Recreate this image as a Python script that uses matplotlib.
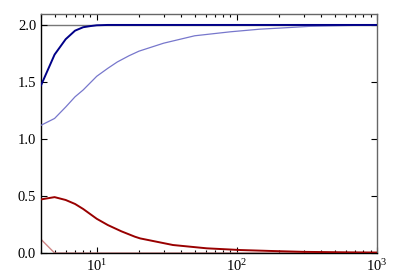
import matplotlib
matplotlib.use("Agg")
import matplotlib.pyplot as plt
import numpy as np

plt.rcParams['font.family'] = ['Liberation Serif', 'DejaVu Serif']
plt.rcParams['mathtext.fontset'] = 'stix'

# dark blue series
x_db = [4, 5, 6, 7, 8, 9, 10, 12, 15, 20, 50, 100, 1000]
y_db = [1.47, 1.74, 1.875, 1.95, 1.98, 1.99, 1.997, 2.0, 2.0, 2.0, 2.0, 2.0, 2.0]

# light blue series
x_lb = [4, 5, 6, 7, 8, 10, 12, 14, 17, 20, 30, 50, 90, 146, 200, 333, 600, 1000]
y_lb = [1.12, 1.18, 1.28, 1.37, 1.43, 1.55, 1.62, 1.675, 1.73, 1.77, 1.84, 1.905, 1.94, 1.963, 1.972, 1.988, 1.995, 2.0]

# dark red series
x_dr = [4, 5, 6, 7, 8, 10, 12, 15, 18.7, 20.4, 35, 61, 106, 173, 300, 600, 1000]
y_dr = [0.47, 0.49, 0.465, 0.43, 0.386, 0.30, 0.245, 0.19, 0.143, 0.128, 0.07, 0.041, 0.026, 0.018, 0.01, 0.006, 0.004]

# light red series
x_lr = [4, 5, 10, 100, 1000]
y_lr = [0.12, 0.0, 0.0, 0.0, 0.0]

fig = plt.figure(figsize=(3.99, 2.78), dpi=100)
ax = fig.add_axes([41/399, 25/278, 336/399, 239/278])

ax.axhline(2.0, color='#777777', lw=1.0, zorder=1)
ax.plot(x_lr, y_lr, color='#d08888', lw=1.0, zorder=2)
ax.plot(x_lb, y_lb, color='#7777cc', lw=0.9, zorder=3)
ax.plot(x_dr, y_dr, color='#990000', lw=1.4, zorder=4)
ax.plot(x_db, y_db, color='#000088', lw=1.4, zorder=5)

ax.set_xscale('log')
ax.set_xlim(4, 1000)
ax.set_ylim(0, 2.096)
ax.set_yticks([0.0, 0.5, 1.0, 1.5, 2.0])
ax.set_yticklabels(['0.0', '0.5', '1.0', '1.5', '2.0'])
ax.tick_params(which='both', direction='in', top=True, right=True, labelsize=10.5, width=0.8)
ax.tick_params(which='major', length=4)
ax.tick_params(which='minor', length=2)
for s in ['top', 'right']:
    ax.spines[s].set_color('#666666')
for s in ['left', 'bottom']:
    ax.spines[s].set_color('black')
for s in ax.spines.values():
    s.set_linewidth(1.0)

fig.savefig('out.png', dpi=100)
